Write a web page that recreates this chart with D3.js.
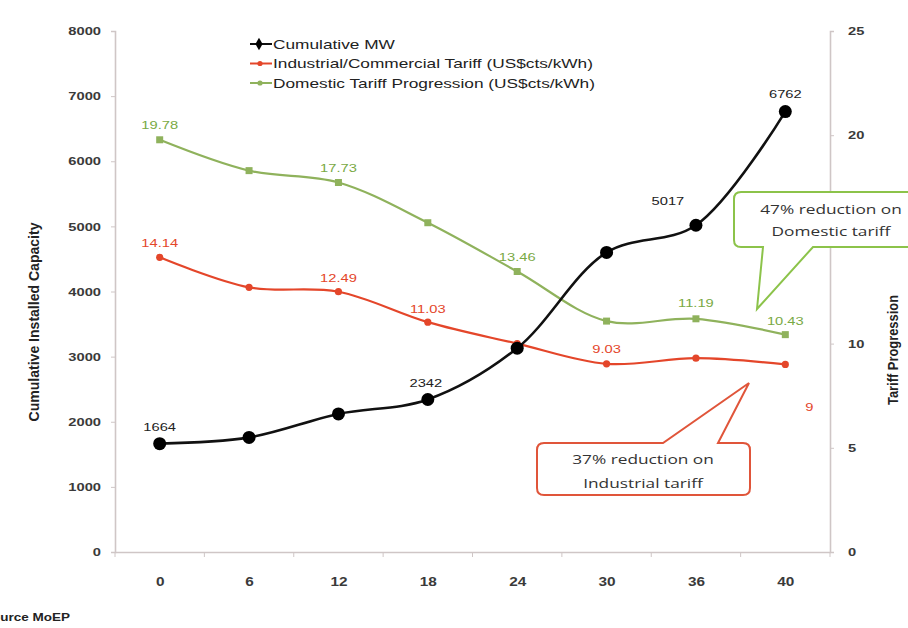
<!DOCTYPE html>
<html>
<head>
<meta charset="utf-8">
<script src="https://cdn.jsdelivr.net/npm/d3@7"></script>
<style>
  html, body { margin: 0; padding: 0; background: #fff; }
  svg { display: block; font-family: "Liberation Sans", Arial, sans-serif; }
</style>
</head>
<body>
<svg id="chart" width="908" height="628"></svg>
<script>
// Months since programme start
const categories = [0, 6, 12, 18, 24, 30, 36, 40];
// Cumulative installed capacity (MW)
const cumulativeMW = [1664, 1760, 2120, 2342, 3130, 4600, 5017, 6762];
// Tariffs (US cents / kWh)
const industrialTariff = [14.14, 12.7, 12.49, 11.03, 10.0, 9.03, 9.3, 9];
const domesticTariff = [19.78, 18.3, 17.73, 15.8, 13.46, 11.08, 11.19, 10.43];

const leftTicks = [0, 1000, 2000, 3000, 4000, 5000, 6000, 7000, 8000];
const rightTicks = [0, 5, 10, 20, 25];

// Which points carry a value label
const mwLabelIdx = [0, 3, 6, 7];
const indLabelIdx = [0, 2, 3, 5, 7];
const domLabelIdx = [0, 2, 4, 6, 7];

const seriesNames = [
  "Cumulative MW",
  "Industrial/Commercial Tariff (US$cts/kWh)",
  "Domestic Tariff Progression (US$cts/kWh)"
];

const BLACK = "#111", RED = "#e4462a", GREEN = "#8fb25c";
const GREEN_TXT = "#79a944", RED_TXT = "#e4462a";
const SX = 1.28; // horizontal widening of lettering

const svg = d3.select("#chart");
const plot = { left: 115, right: 830, top: 31, bottom: 552 };

const x = d3.scalePoint().domain(categories).range([plot.left, plot.right]).padding(0.5);
const yL = d3.scaleLinear().domain([0, 8000]).range([plot.bottom, plot.top]);
const yR = d3.scaleLinear().domain([0, 25]).range([plot.bottom, plot.top]);

// widened text placed at (px, py)
function label(parent, px, py, str, sx = SX) {
  return parent.append("text").attr("transform", `translate(${px},${py}) scale(${sx},1)`).text(str);
}

// Axes
const axisColor = "#cfc6c6";
const gL = svg.append("g").attr("transform", `translate(${plot.left},0)`)
  .call(d3.axisLeft(yL).tickValues(leftTicks).tickFormat(d3.format("d")).tickSize(4).tickPadding(10));
const gR = svg.append("g").attr("transform", `translate(${plot.right},0)`)
  .call(d3.axisRight(yR).tickValues(rightTicks).tickSize(4).tickPadding(14));
const bandStep = x.step();
const gX = svg.append("g").attr("transform", `translate(0,${plot.bottom})`)
  .call(d3.axisBottom(x).tickSize(0).tickPadding(25));
gX.selectAll(".bound").data(d3.range(categories.length + 1)).enter().append("line")
  .attr("x1", i => plot.left + i * bandStep).attr("x2", i => plot.left + i * bandStep)
  .attr("y1", 0).attr("y2", 5).attr("stroke", axisColor);

[gL, gR, gX].forEach(g => {
  g.select(".domain").attr("stroke", axisColor).attr("stroke-width", 1.6);
  g.selectAll(".tick line").attr("stroke", axisColor);
  g.selectAll(".tick text").attr("fill", "#3a3a3a").attr("font-size", 11.5)
    .attr("font-weight", "bold").attr("font-family", "'Liberation Sans', Arial, sans-serif")
    .each(function () {
      const t = d3.select(this);
      const x0 = +t.attr("x") || 0;
      t.attr("x", x0 / SX).attr("transform", `scale(${SX},1)`);
    });
});
gX.selectAll(".tick text").attr("font-size", 12);

// Axis titles
svg.append("text").attr("transform", "translate(39,322) rotate(-90) scale(1,1.25)")
  .attr("text-anchor", "middle").attr("font-size", 11).attr("font-weight", "bold")
  .attr("textLength", 199).attr("lengthAdjust", "spacingAndGlyphs")
  .attr("fill", "#222").text("Cumulative Installed Capacity");
svg.append("text").attr("transform", "translate(898,350) rotate(-90) scale(1,1.25)")
  .attr("text-anchor", "middle").attr("font-size", 11).attr("font-weight", "bold")
  .attr("textLength", 110).attr("lengthAdjust", "spacingAndGlyphs")
  .attr("fill", "#222").text("Tariff Progression");

// Lines
const curve = d3.curveCatmullRom.alpha(0.5);
const lineL = d3.line().x((d, i) => x(categories[i])).y(d => yL(d)).curve(curve);
const lineR = d3.line().x((d, i) => x(categories[i])).y(d => yR(d)).curve(curve);

svg.append("path").datum(domesticTariff).attr("d", lineR)
  .attr("fill", "none").attr("stroke", GREEN).attr("stroke-width", 2.2);
svg.append("path").datum(industrialTariff).attr("d", lineR)
  .attr("fill", "none").attr("stroke", RED).attr("stroke-width", 2.2);
svg.append("path").datum(cumulativeMW).attr("d", lineL)
  .attr("fill", "none").attr("stroke", BLACK).attr("stroke-width", 2.6);

// Markers
svg.selectAll(".mk-dom").data(domesticTariff).enter().append("rect")
  .attr("x", (d, i) => x(categories[i]) - 3.5).attr("y", d => yR(d) - 3.5)
  .attr("width", 7).attr("height", 7).attr("fill", GREEN);
svg.selectAll(".mk-ind").data(industrialTariff).enter().append("circle")
  .attr("cx", (d, i) => x(categories[i])).attr("cy", d => yR(d)).attr("r", 3.6).attr("fill", RED);
svg.selectAll(".mk-mw").data(cumulativeMW).enter().append("circle")
  .attr("cx", (d, i) => x(categories[i])).attr("cy", d => yL(d)).attr("r", 6.5).attr("fill", "#000");

// Value labels
const fmt2 = d => (Number.isInteger(d) ? String(d) : d.toFixed(2));
const mwOffsets = { 0: [0, -13], 3: [-2, -12], 6: [-28, -20], 7: [0, -14] };
mwLabelIdx.forEach(i => {
  const [dx, dy] = mwOffsets[i];
  label(svg, x(categories[i]) + dx, yL(cumulativeMW[i]) + dy, cumulativeMW[i])
    .attr("text-anchor", "middle").attr("font-size", 11.5).attr("fill", "#222");
});
const indOffsets = { 0: [0, -10], 2: [0, -10], 3: [0, -9], 5: [0, -11], 7: [24, 47] };
indLabelIdx.forEach(i => {
  const [dx, dy] = indOffsets[i];
  label(svg, x(categories[i]) + dx, yR(industrialTariff[i]) + dy, fmt2(industrialTariff[i]))
    .attr("text-anchor", "middle").attr("font-size", 11.5).attr("fill", RED_TXT);
});
const domOffsets = { 0: [0, -11], 2: [0, -11], 4: [0, -10], 6: [0, -12], 7: [0, -10] };
domLabelIdx.forEach(i => {
  const [dx, dy] = domOffsets[i];
  label(svg, x(categories[i]) + dx, yR(domesticTariff[i]) + dy, fmt2(domesticTariff[i]))
    .attr("text-anchor", "middle").attr("font-size", 11.5).attr("fill", GREEN_TXT);
});

// Legend
const legend = svg.append("g").attr("transform", "translate(250,44)");
const legColors = [BLACK, RED, GREEN];
seriesNames.forEach((name, i) => {
  const g = legend.append("g").attr("transform", `translate(0,${i * 19.5})`);
  g.append("line").attr("x1", 0).attr("x2", 22).attr("stroke", legColors[i]).attr("stroke-width", 2);
  if (i === 0) g.append("path").attr("d", d3.symbol(d3.symbolDiamond, 45)()).attr("transform", "translate(9,0)").attr("fill", "#000");
  else g.append("circle").attr("cx", 10).attr("r", 2.6).attr("fill", legColors[i]);
  label(g, 23, 4.5, name, 1.33).attr("font-size", 13).attr("fill", "#222");
});

// Callouts: rounded box with a pointer wedge toward the tip
function callout(box, base, tip, stroke, lines) {
  const r = 7;
  const { x0, y0, x1, y1 } = box;
  let path;
  if (tip[1] < y0) {
    path = `M${x0 + r},${y0} H${base[0]} L${tip[0]},${tip[1]} L${base[1]},${y0} H${x1 - r} Q${x1},${y0} ${x1},${y0 + r}` +
      ` V${y1 - r} Q${x1},${y1} ${x1 - r},${y1} H${x0 + r} Q${x0},${y1} ${x0},${y1 - r}` +
      ` V${y0 + r} Q${x0},${y0} ${x0 + r},${y0} Z`;
  } else {
    path = `M${x0 + r},${y0} H${x1 - r} Q${x1},${y0} ${x1},${y0 + r} V${y1 - r} Q${x1},${y1} ${x1 - r},${y1}` +
      ` H${base[1]} L${tip[0]},${tip[1]} L${base[0]},${y1}` +
      ` H${x0 + r} Q${x0},${y1} ${x0},${y1 - r} V${y0 + r} Q${x0},${y0} ${x0 + r},${y0} Z`;
  }
  svg.append("path").attr("d", path).attr("fill", "#fff").attr("stroke", stroke).attr("stroke-width", 2);
  lines.text.forEach((t, i) => {
    label(svg, lines.cx, lines.y + i * lines.gap, t, 1.28).attr("text-anchor", "middle")
      .attr("font-family", "'Open Sans', sans-serif").attr("font-size", 13.5)
      .attr("font-weight", 500).attr("fill", "#333");
  });
}
callout({ x0: 734, y0: 192, x1: 930, y1: 247 }, [763, 813], [757, 309], "#8cc34a",
  { cx: 831, y: 214, gap: 22, text: ["47% reduction on", "Domestic tariff"] });
callout({ x0: 537, y0: 443, x1: 750, y1: 495 }, [663, 718], [749, 383], "#e0553a",
  { cx: 643, y: 464, gap: 24, text: ["37% reduction on", "Industrial tariff"] });

// Source note
label(svg, -17, 621, "Source MoEP", 1.35).attr("font-size", 10).attr("font-weight", "bold")
  .attr("fill", "#222");
</script>
</body>
</html>
